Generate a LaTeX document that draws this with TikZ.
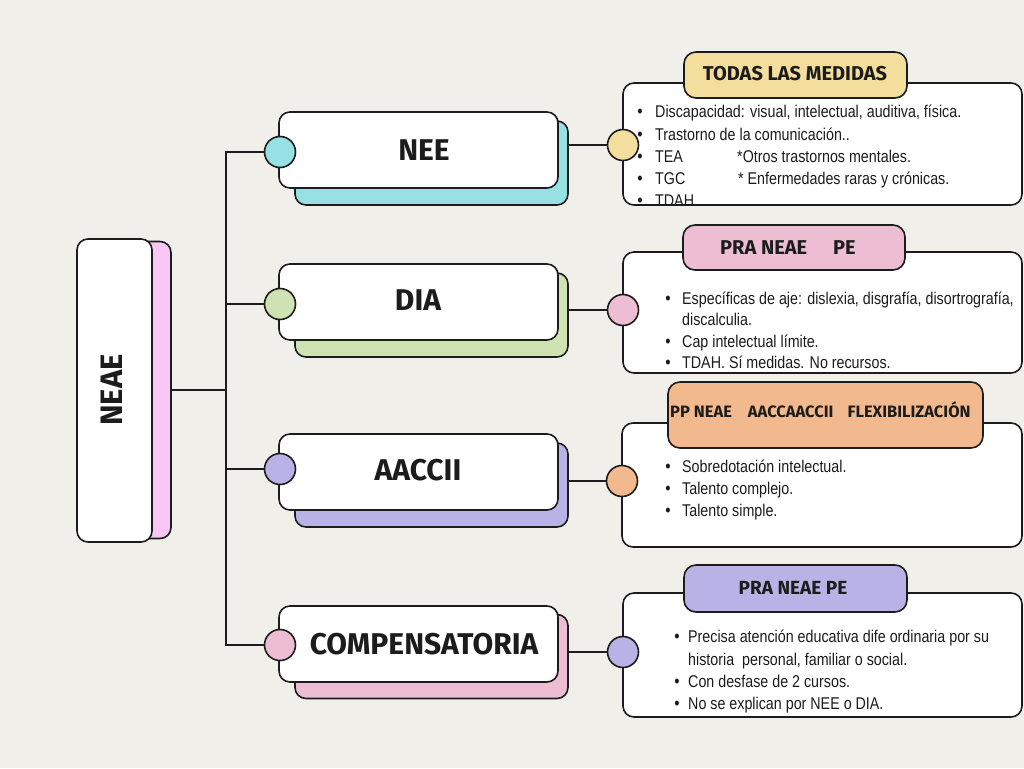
\documentclass[tikz,border=0pt]{standalone}
\usepackage{fontspec}
\setmainfont{Liberation Sans}
\newfontfamily\bodyf{Liberation Sans}[FakeStretch=0.84]
\newfontfamily\hand{Fira Sans}
\definecolor{bg}{HTML}{F1EFEA}
\definecolor{ink}{HTML}{1C1C1C}
\definecolor{cteal}{HTML}{97E0E3}
\definecolor{cgreen}{HTML}{CFE2B3}
\definecolor{clav}{HTML}{B8B2E6}
\definecolor{cpink}{HTML}{EDBDD3}
\definecolor{cmain}{HTML}{F9C6F5}
\definecolor{cyel}{HTML}{F3DE9E}
\definecolor{corange}{HTML}{F2B98F}
\begin{document}
\begin{tikzpicture}[x=1pt,y=-1pt,
  wbox/.style={draw=ink, line width=1.6pt, fill=white, rounded corners=11pt, inner sep=0pt},
  sbox/.style={draw=ink, line width=1.6pt, rounded corners=11pt, inner sep=0pt},
  tagbox/.style={draw=ink, line width=1.6pt, rounded corners=12pt, inner sep=0pt},
  dot/.style={circle, draw=ink, line width=1.6pt, minimum size=31pt, inner sep=0pt},
  conn/.style={draw=ink, line width=1.6pt},
  lbl/.style={text=ink, inner sep=0pt, font=\hand\bfseries\fontsize{30}{30}\selectfont},
  taglbl/.style={text=ink, inner sep=0pt, font=\hand\bfseries\fontsize{20}{20}\selectfont},
  item/.style={anchor=west, inner sep=0pt, text=ink, text height=12pt, text depth=3.5pt, font=\bodyf\fontsize{17}{17}\selectfont},
  bul/.style={inner sep=0pt, text=ink, text height=12pt, text depth=3.5pt, font=\bodyf\fontsize{18}{18}\selectfont}
]
\useasboundingbox (0,0) rectangle (1024,768);
\fill[bg] (0,0) rectangle (1024,768);

% main NEAE
\node[sbox, fill=cmain, minimum width=71pt, minimum height=297pt] (mainS) at (135.5,390) {};
\node[wbox, minimum width=75pt, minimum height=303pt] (main) at (114.5,390.5) {};
\node[lbl, rotate=90, font=\hand\bfseries\fontsize{31}{31}\selectfont] (mainT) at (112,390) {NEAE};

% branch shadows and boxes
\node[sbox, fill=cteal, minimum width=273pt, minimum height=84pt] (neeS) at (431.5,163) {};
\node[wbox, minimum width=279pt, minimum height=76pt] (nee) at (418.5,150) {};
\node[lbl] (neeT) at (424,150) {NEE};

\node[sbox, fill=cgreen, minimum width=273pt, minimum height=84pt] (diaS) at (431.5,315) {};
\node[wbox, minimum width=279pt, minimum height=76pt] (dia) at (418.5,302) {};
\node[lbl] (diaT) at (418,300) {DIA};

\node[sbox, fill=clav, minimum width=273pt, minimum height=84pt] (acS) at (431.5,485) {};
\node[wbox, minimum width=279pt, minimum height=76pt] (ac) at (418.5,472) {};
\node[lbl] (acT) at (418,470) {AACCII};

\node[sbox, fill=cpink, minimum width=273pt, minimum height=84pt] (coS) at (431.5,656.5) {};
\node[wbox, minimum width=279pt, minimum height=76pt] (co) at (418.5,644) {};
\node[lbl] (coT) at (424,644) {COMPENSATORIA};

% trunk
\draw[conn] (mainS.east) -- (226,390);
\node[dot, fill=cteal] (neeD) at (280,152) {};
\node[dot, fill=cgreen] (diaD) at (280,304) {};
\node[dot, fill=clav] (acD) at (280,469) {};
\node[dot, fill=cpink] (coD) at (280,645) {};
\draw[conn] (neeD.west) -- ++(-38,0) |- (coD.west);
\draw[conn] (diaD.west) -- ++(-38,0);
\draw[conn] (acD.west) -- ++(-38,0);

% right boxes
\node[wbox, minimum width=399pt, minimum height=122pt] (r1) at (822.5,144) {};
\node[wbox, minimum width=399pt, minimum height=121pt] (r2) at (822.5,312.5) {};
\node[wbox, minimum width=400pt, minimum height=124pt] (r3) at (822,485) {};
\node[wbox, minimum width=399pt, minimum height=124pt] (r4) at (822.5,655) {};

\node[dot, fill=cyel] (r1D) at (623,145) {};
\node[dot, fill=cpink] (r2D) at (623,310) {};
\node[dot, fill=corange] (r3D) at (622,481) {};
\node[dot, fill=clav] (r4D) at (623,652) {};

\draw[conn] (neeS.east |- r1D) -- (r1D.west);
\draw[conn] (diaS.east |- r2D) -- (r2D.west);
\draw[conn] (acS.east |- r3D) -- (r3D.west);
\draw[conn] (coS.east |- r4D) -- (r4D.west);

% tags
\node[tagbox, fill=cyel, minimum width=223pt, minimum height=46pt] (t1) at (795.5,75) {};
\node[taglbl] (t1T) at (795,74) {TODAS LAS MEDIDAS};
\node[tagbox, fill=cpink, minimum width=222pt, minimum height=45pt] (t2) at (794,247.5) {};
\node[taglbl, anchor=west] (t2T) at (720,248) {PRA NEAE\hspace{26pt}PE};
\node[tagbox, fill=corange, minimum width=315pt, minimum height=66pt] (t3) at (825.5,415) {};
\node[taglbl, anchor=west, font=\hand\bfseries\fontsize{16.5}{16.5}\selectfont] (t3T) at (670,410) {PP NEAE\hspace{16pt}AACCAACCII\hspace{14pt}FLEXIBILIZACIÓN};
\node[tagbox, fill=clav, minimum width=223pt, minimum height=47pt] (t4) at (795.5,588.5) {};
\node[taglbl, font=\hand\bfseries\fontsize{19}{19}\selectfont] (t4T) at (793,588) {PRA NEAE PE};

% items box 1
\node[bul] (b11) at (640,113) {•};
\node[item] (i11) at (655,113) {Discapacidad: visual, intelectual, auditiva, física.};
\node[bul] (b12) at (640,136) {•};
\node[item] (i12) at (655,136) {Trastorno de la comunicación..};
\node[bul] (b13) at (640,158) {•};
\node[item] (i13) at (655,158) {TEA};
\node[item] (i13b) at (737,158) {*Otros trastornos mentales.};
\node[bul] (b14) at (640,180) {•};
\node[item] (i14) at (655,180) {TGC};
\node[item] (i14b) at (738,180) {* Enfermedades raras y crónicas.};
\node[bul] (b15) at (640,202) {•};
\node[item] (i15) at (655,202) {TDAH};

% items box 2
\node[bul] (b21) at (668,300) {•};
\node[item] (i21) at (682,300) {Específicas de aje: dislexia, disgrafía, disortrografía,};
\node[item] (i21b) at (682,321) {discalculia.};
\node[bul] (b22) at (668,343) {•};
\node[item] (i22) at (682,343) {Cap intelectual límite.};
\node[bul] (b23) at (668,364) {•};
\node[item] (i23) at (682,364) {TDAH. Sí medidas. No recursos.};

% items box 3
\node[bul] (b31) at (668,468) {•};
\node[item] (i31) at (682,468) {Sobredotación intelectual.};
\node[bul] (b32) at (668,490) {•};
\node[item] (i32) at (682,490) {Talento complejo.};
\node[bul] (b33) at (668,512) {•};
\node[item] (i33) at (682,512) {Talento simple.};

% items box 4
\node[bul] (b41) at (677,638) {•};
\node[item] (i41) at (688,638) {Precisa atención educativa dife ordinaria por su};
\node[item] (i41b) at (688,661) {historia\ \ personal, familiar o social.};
\node[bul] (b42) at (677,683) {•};
\node[item] (i42) at (688,683) {Con desfase de 2 cursos.};
\node[bul] (b43) at (677,705) {•};
\node[item] (i43) at (688,705) {No se explican por NEE o DIA.};
\end{tikzpicture}
\end{document}
